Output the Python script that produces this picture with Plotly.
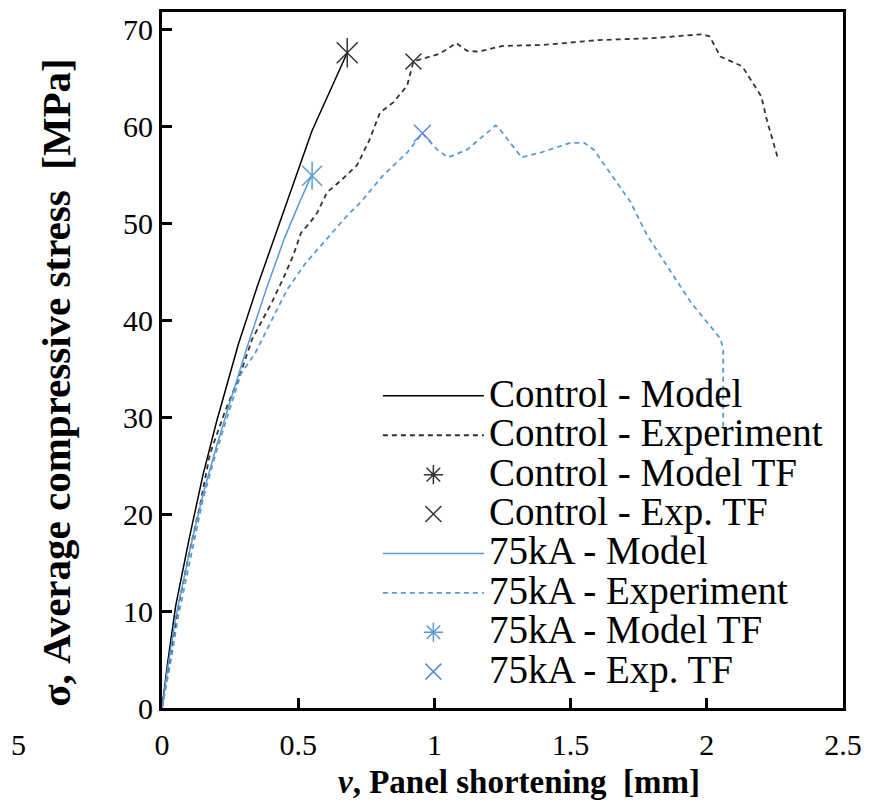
import plotly.graph_objects as go

# ---------------- data ----------------
ctrl_model_x = [0, 0.02, 0.05, 0.1, 0.15, 0.2, 0.28, 0.35, 0.45, 0.55, 0.68]
ctrl_model_y = [0, 4.5, 10.5, 17.5, 24, 29.5, 37.5, 43.5, 51.5, 59.5, 67.6]

ctrl_exp_x = [0, 0.03, 0.06, 0.1, 0.14, 0.176, 0.23, 0.287, 0.33, 0.371, 0.404, 0.445,
              0.482, 0.51, 0.544, 0.57, 0.606, 0.66, 0.716, 0.76, 0.80, 0.85, 0.90, 0.923,
              0.97, 1.02, 1.08, 1.12, 1.16, 1.25, 1.4, 1.6, 1.8, 1.98, 2.01, 2.05, 2.13,
              2.17, 2.20, 2.22, 2.26]
ctrl_exp_y = [0, 5, 10.5, 16, 21, 26.2, 30.5, 34.4, 38, 40.1, 41.9, 44.3,
              46.7, 49, 50.1, 51.1, 53.2, 54.5, 56, 58.5, 61.4, 62.5, 64.2, 66.7,
              67.1, 67.5, 68.6, 67.8, 67.7, 68.3, 68.4, 68.9, 69.1, 69.5, 69.3, 67.2, 66.2,
              64.5, 63.1, 60.7, 56.8]

ka_model_x = [0, 0.02, 0.05, 0.1, 0.15, 0.2, 0.25, 0.31, 0.38, 0.45, 0.51, 0.55]
ka_model_y = [0, 4, 9.3, 16, 22, 27, 31.6, 37, 43, 48.5, 52.5, 55]

ka_exp_x = [0, 0.03, 0.06, 0.1, 0.15, 0.2, 0.25, 0.29, 0.342, 0.41, 0.46, 0.53, 0.605,
            0.68, 0.73, 0.81, 0.9, 0.956, 1.01, 1.05, 1.12, 1.225, 1.24, 1.32, 1.39,
            1.5, 1.55, 1.585, 1.72, 1.78, 1.94, 2.05, 2.06, 2.06]
ka_exp_y = [0, 4.5, 9.5, 15, 21.5, 26.5, 31, 34.5, 36.6, 40.5, 43.2, 46, 48.4,
            50.8, 52.2, 54.9, 57.3, 59.3, 57.6, 56.8, 57.6, 60.1, 59.7, 56.8, 57.3,
            58.3, 58.3, 57.6, 52.2, 48.8, 41.9, 38.1, 37.1, 28.9]

ctrl_model_tf = (0.68, 67.6)
ctrl_exp_tf = (0.923, 66.7)
ka_model_tf = (0.551, 54.9)
ka_exp_tf = (0.956, 59.3)

names = ["Control - Model", "Control - Experiment", "Control - Model TF", "Control - Exp. TF",
         "75kA - Model", "75kA - Experiment", "75kA - Model TF", "75kA - Exp. TF"]

x_ticks = [0, 0.5, 1, 1.5, 2, 2.5]
y_ticks = [0, 10, 20, 30, 40, 50, 60, 70]

x_title = "<b><i>v</i>, Panel shortening  [mm]</b>"
y_title = "<b>σ, Average compressive stress  [MPa]</b>"

# ---------------- style ----------------
FONT = "Liberation Serif, Times New Roman, serif"
BLACK = "#000000"
GREY = "#333333"
BLUE = "#5B9BD5"
BLUE2 = "#5A8BD8"
LEG_BIG = 39


def lname(s):
    return f'<span style="font-size:{LEG_BIG}px">{s}</span>'


fig = go.Figure()

fig.add_trace(go.Scatter(x=ctrl_model_x, y=ctrl_model_y, mode="lines", name=lname(names[0]),
                         line=dict(color=BLACK, width=1.5)))
fig.add_trace(go.Scatter(x=ctrl_exp_x, y=ctrl_exp_y, mode="lines", name=lname(names[1]),
                         line=dict(color=GREY, width=1.8, dash="5px,4px")))
fig.add_trace(go.Scatter(x=[None, ctrl_model_tf[0], ctrl_model_tf[0]],
                         y=[None, ctrl_model_tf[1], ctrl_model_tf[1]],
                         mode="markers", name=lname(names[2]),
                         marker=dict(symbol=["asterisk-open", "x-thin-open", "line-ns-open"],
                                     size=21, color=GREY, line=dict(color=GREY, width=1.5))))
fig.add_trace(go.Scatter(x=[ctrl_exp_tf[0]], y=[ctrl_exp_tf[1]], mode="markers",
                         name=lname(names[3]),
                         marker=dict(symbol="x-thin-open", size=16, color=GREY,
                                     line=dict(color=GREY, width=1.5))))
fig.add_trace(go.Scatter(x=ka_model_x, y=ka_model_y, mode="lines", name=lname(names[4]),
                         line=dict(color=BLUE, width=1.5)))
fig.add_trace(go.Scatter(x=ka_exp_x, y=ka_exp_y, mode="lines", name=lname(names[5]),
                         line=dict(color=BLUE, width=1.8, dash="5px,4px")))
fig.add_trace(go.Scatter(x=[None, ka_model_tf[0], ka_model_tf[0]],
                         y=[None, ka_model_tf[1], ka_model_tf[1]],
                         mode="markers", name=lname(names[6]),
                         marker=dict(symbol=["asterisk-open", "x-thin-open", "line-ns-open"],
                                     size=20, color=BLUE, line=dict(color=BLUE, width=1.5))))
fig.add_trace(go.Scatter(x=[ka_exp_tf[0]], y=[ka_exp_tf[1]], mode="markers",
                         name=lname(names[7]),
                         marker=dict(symbol="x-thin-open", size=17, color=BLUE2,
                                     line=dict(color=BLUE2, width=1.5))))

axis_common = dict(showline=True, mirror=True, linewidth=3, linecolor=BLACK,
                   ticks="inside", ticklen=10, tickwidth=3, tickcolor=BLACK,
                   showgrid=False, zeroline=False,
                   tickfont=dict(family=FONT, size=30, color=BLACK))

fig.update_xaxes(range=[0, 2.5], tickvals=x_ticks, ticktext=[str(v) for v in x_ticks],
                 ticklabelstandoff=8, **axis_common)
fig.update_yaxes(range=[0, 71.8], tickvals=y_ticks, ticktext=[str(v) for v in y_ticks],
                 ticklabelstandoff=0, **axis_common)

# axis titles placed as annotations to match the reference offsets
fig.add_annotation(text=x_title, xref="paper", yref="paper", x=0.524, y=-0.106,
                   xanchor="center", yanchor="middle", showarrow=False,
                   font=dict(family=FONT, size=33, color=BLACK))
fig.add_annotation(text=y_title, xref="paper", yref="paper", x=-0.155, y=0.468,
                   xanchor="center", yanchor="middle", textangle=-90, showarrow=False,
                   font=dict(family=FONT, size=41, color=BLACK))

fig.add_annotation(text="5", xref="paper", yref="paper", x=-0.21, y=-0.053,
                   xanchor="center", yanchor="middle",
                   showarrow=False, font=dict(family=FONT, size=30, color=BLACK))

fig.update_layout(
    width=863, height=804,
    margin=dict(l=154, r=28, t=1, b=104),
    plot_bgcolor="white", paper_bgcolor="white",
    font=dict(family=FONT, color=BLACK),
    legend=dict(x=0.317, y=0.484, xanchor="left", yanchor="top",
                bgcolor="rgba(0,0,0,0)", itemwidth=101,
                font=dict(family=FONT, size=28, color=BLACK), tracegroupgap=0),
)

fig.write_html("out.html")
